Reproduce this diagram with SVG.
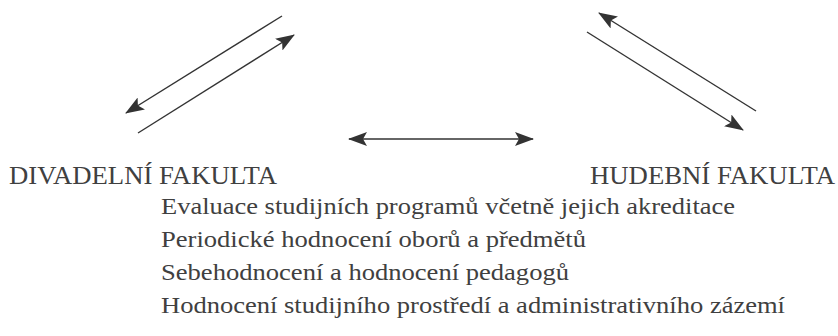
<svg xmlns="http://www.w3.org/2000/svg" width="838" height="336" viewBox="0 0 838 336">
<style>
.hdr{font-family:"Liberation Serif","DejaVu Serif",serif;font-size:26px;fill:#404040}
.item{font-family:"Liberation Serif","DejaVu Serif",serif;font-size:24px;fill:#404040}
.conn{stroke:#333;stroke-width:1.4;fill:none}
</style>
<defs>
<marker id="ah" viewBox="0 0 19 14" refX="18" refY="7" markerWidth="19" markerHeight="14" markerUnits="userSpaceOnUse" orient="auto-start-reverse">
<path d="M0,0 L19,7 L0,14 L4,7 z" fill="#333"/>
</marker>
</defs>
<rect width="838" height="336" fill="#fff"/>
<g id="connectors">
<line class="conn" x1="282" y1="16" x2="126" y2="113" marker-end="url(#ah)"/>
<line class="conn" x1="138" y1="133" x2="294" y2="35" marker-end="url(#ah)"/>
<line class="conn" x1="756" y1="111" x2="599" y2="13" marker-end="url(#ah)"/>
<line class="conn" x1="587" y1="32" x2="743" y2="130" marker-end="url(#ah)"/>
<line class="conn" x1="349" y1="139" x2="533" y2="139" marker-start="url(#ah)" marker-end="url(#ah)"/>
</g>
<g id="divadelni">
<text class="hdr" x="9" y="184" textLength="268" lengthAdjust="spacingAndGlyphs">DIVADELNÍ FAKULTA</text>
</g>
<g id="hudebni">
<text class="hdr" x="590" y="184" textLength="245" lengthAdjust="spacingAndGlyphs">HUDEBNÍ FAKULTA</text>
</g>
<g id="list">
<text class="item" x="161" y="214" textLength="574" lengthAdjust="spacingAndGlyphs">Evaluace studijních programů včetně jejich akreditace</text>
<text class="item" x="161" y="247" textLength="425" lengthAdjust="spacingAndGlyphs">Periodické hodnocení oborů a předmětů</text>
<text class="item" x="161" y="280" textLength="408" lengthAdjust="spacingAndGlyphs">Sebehodnocení a hodnocení pedagogů</text>
<text class="item" x="161" y="313" textLength="624" lengthAdjust="spacingAndGlyphs">Hodnocení studijního prostředí a administrativního zázemí</text>
</g>
</svg>
